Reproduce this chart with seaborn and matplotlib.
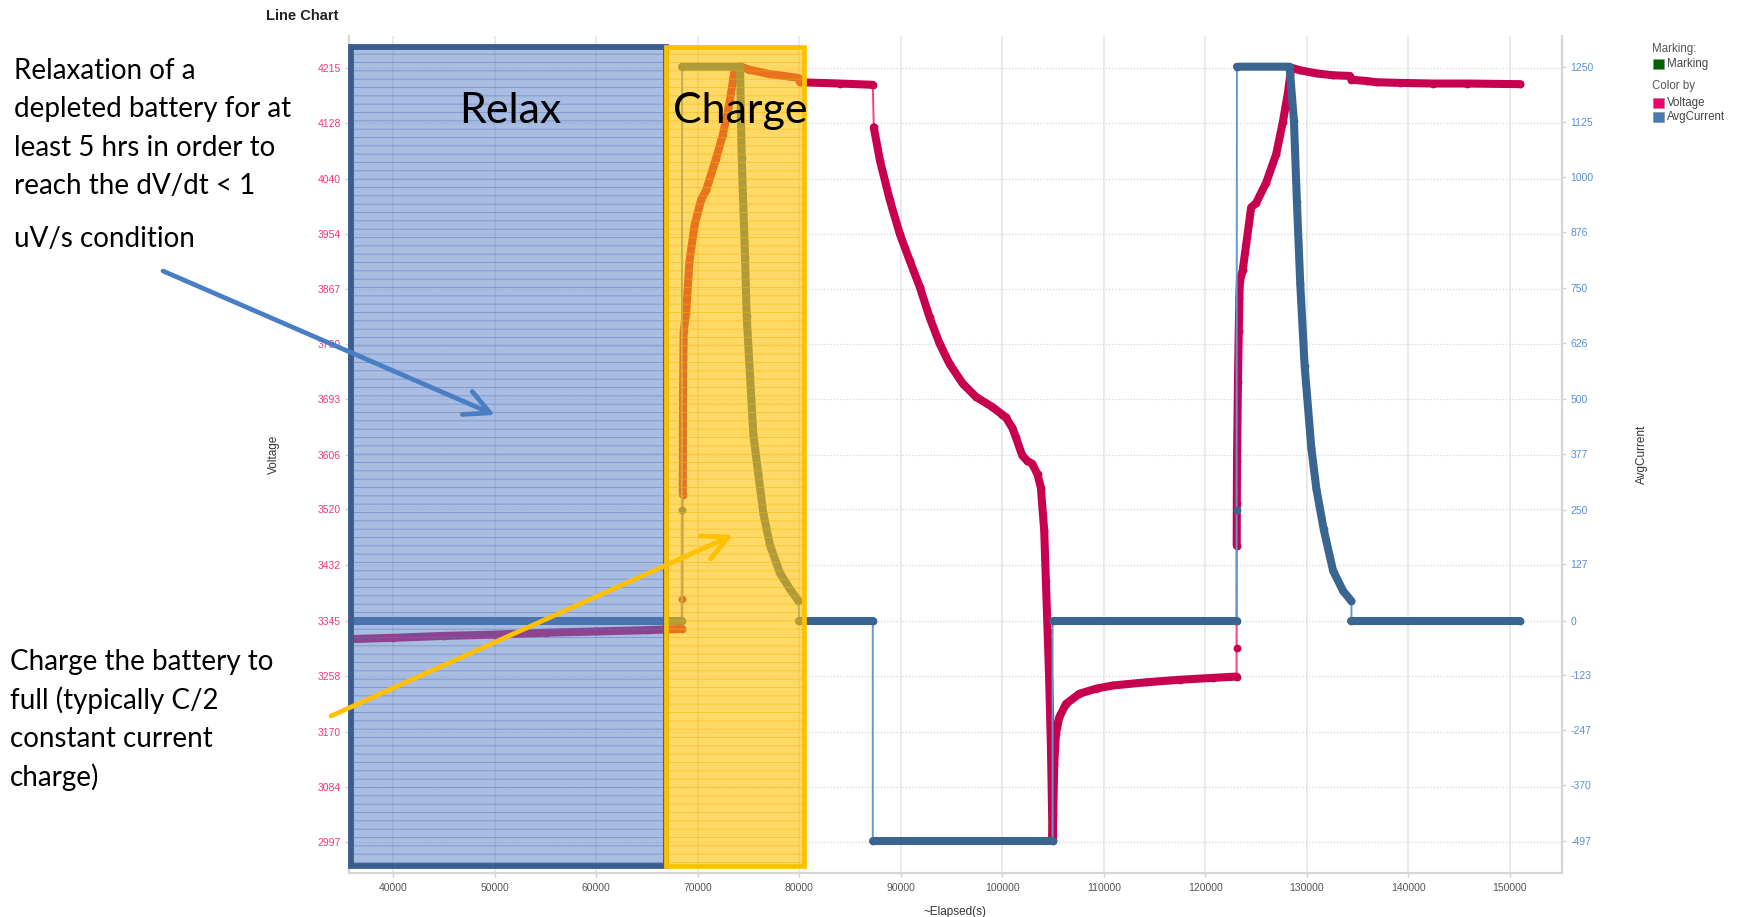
import matplotlib
matplotlib.use("Agg")
import matplotlib.pyplot as plt
from matplotlib.patches import Rectangle, FancyArrowPatch, ArrowStyle
import pandas as pd
import seaborn as sns

# ---------------- data ----------------
# Cell voltage (mV) vs elapsed time (s); "run" splits the trace into
# continuously sampled stretches (jumps between runs are thin connectors).
volt_time = [35800, 40000, 45000, 50000, 55000, 60000, 65000, 68450,
             68480,
             68517, 68540, 68600, 68845, 69173, 69665, 70157, 70321, 70813, 71797,
             72454, 73110, 73603, 73767, 74200, 75000, 77000, 79900,
             80050, 84000, 87230,
             87330, 87950, 88920, 89900, 90880, 91860, 92830, 93810, 94790, 96090,
             97400, 99020, 100000, 100330, 100990, 101310, 101950, 102470, 102930,
             103460, 103790, 104120, 104280, 104450, 104610, 104780, 104940,
             105008, 105107, 105272, 105601, 106260, 107578, 109226, 110873,
             114168, 117463, 120758, 123064,
             123066,
             123080, 123090, 123110, 123200, 123280, 123340, 123400, 123670, 124500,
             124990, 125980, 126970, 127630, 128120, 128450, 129280, 130920, 132570,
             134220,
             134382, 135865, 136854, 139160, 142455, 145750, 151022]
volt_mv = [3316, 3318, 3321, 3323, 3326, 3328, 3330, 3332,
           3379,
           3543, 3700, 3800, 3829, 3910, 3966, 3997, 4007, 4022, 4072,
           4109, 4159, 4209, 4215, 4217, 4212, 4205, 4199,
           4192, 4190, 4188,
           4121, 4068, 4006, 3953, 3911, 3870, 3822, 3781, 3749, 3718,
           3697, 3681, 3669, 3665, 3648, 3634, 3605, 3596, 3592,
           3575, 3554, 3486, 3408, 3329, 3251, 3146, 3000,
           3041, 3120, 3167, 3193, 3214, 3230, 3238, 3243,
           3248, 3252, 3255, 3257,
           3302,
           3463, 3530, 3596, 3720, 3800, 3853, 3880, 3896, 3995,
           4002, 4034, 4079, 4130, 4175, 4215, 4211, 4206, 4203,
           4202,
           4196, 4194, 4192, 4191, 4190, 4190, 4189]
volt_run = ([0] * 8 + [1] + [2] * 18 + [3] * 3 + [4] * 39 + [5] + [6] * 19 + [7] * 7)

# Average current (mA) vs elapsed time (s)
curr_time = [35800, 68404,
             68420,
             68450, 74155, 74318, 74646, 74810, 75137, 75465, 75956, 76456, 77111,
             78093, 79075, 79905,
             80000, 87230,
             87230, 104940,
             104940, 123064,
             123066,
             123100, 128287, 128715, 129011, 129341, 129769, 130428, 130923, 131647,
             132570, 133559, 134382,
             134382, 151022]
curr_ma = [0, 0,
           250,
           1250, 1250, 1045, 821, 687, 553, 420, 330, 241, 170,
           107, 71, 45,
           0, 0,
           -497, -497,
           0, 0,
           250,
           1250, 1250, 1128, 944, 759, 575, 390, 298, 206,
           113, 67, 44,
           0, 0]
curr_run = ([0] * 2 + [1] + [2] * 13 + [3] * 2 + [4] * 2 + [5] * 2 + [6] + [7] * 12 + [8] * 2)

x_ticks = [40000, 50000, 60000, 70000, 80000, 90000, 100000,
           110000, 120000, 130000, 140000, 150000]
volt_ticks = [2997, 3084, 3170, 3258, 3345, 3432, 3520, 3606,
              3693, 3780, 3867, 3954, 4040, 4128, 4215]
curr_ticks = [-497, -370, -247, -123, 0, 127, 250, 377,
              500, 626, 750, 876, 1000, 1125, 1250]

# Test phases highlighted on the chart
phase_names = ["Relax", "Charge"]
phase_start = [35850, 66840]
phase_end = [66840, 80480]

volt_df = pd.DataFrame({"t": volt_time, "v": volt_mv, "run": volt_run})
curr_df = pd.DataFrame({"t": curr_time, "i": curr_ma, "run": curr_run})

# ---------------- style ----------------
sns.set_theme(style="white")
plt.rcParams["font.family"] = ["Liberation Sans", "DejaVu Sans"]
plt.rcParams["hatch.linewidth"] = 0.7

W, H = 1737, 917
fig = plt.figure(figsize=(W / 100, H / 100), dpi=100)
L, R, T, B = 349, 1562, 36.5, 873
ax = fig.add_axes([L / W, 1 - B / H, (R - L) / W, (B - T) / H])
ax2 = ax.twinx()

V_THICK, V_THIN = "#C7004F", "#FF3A84"
C_THICK, C_THIN = "#3A6591", "#5E9AD6"
THICK_LW, DOT = 5.8, 5.6

# Voltage trace
sns.lineplot(data=volt_df, x="t", y="v", sort=False, estimator=None,
             color=V_THIN, linewidth=1.4, ax=ax, legend=False)
sns.lineplot(data=volt_df, x="t", y="v", units="run", sort=False, estimator=None,
             color=V_THICK, linewidth=THICK_LW, marker="o", markersize=DOT,
             markeredgewidth=0, solid_capstyle="round", solid_joinstyle="round",
             ax=ax, legend=False)

# Current trace
sns.lineplot(data=curr_df, x="t", y="i", sort=False, estimator=None,
             color=C_THIN, linewidth=1.4, ax=ax2, legend=False)
sns.lineplot(data=curr_df, x="t", y="i", units="run", sort=False, estimator=None,
             color=C_THICK, linewidth=THICK_LW, marker="o", markersize=DOT,
             markeredgewidth=0, solid_capstyle="round", solid_joinstyle="round",
             ax=ax2, legend=False)

v_lo, v_hi = 2948, 4264
ax.set_xlim(35636, 155122)
ax.set_ylim(v_lo, v_hi)
scale = (curr_ticks[-1] - curr_ticks[0]) / (volt_ticks[-1] - volt_ticks[0])
ax2.set_ylim((v_lo - 3345) * scale, (v_hi - 3345) * scale)

ax.set_xticks(x_ticks)
ax.set_xticklabels([str(x) for x in x_ticks])
ax.set_yticks(volt_ticks)
ax.set_yticklabels([str(v) for v in volt_ticks])
ax2.set_yticks(curr_ticks)
ax2.set_yticklabels([str(c) for c in curr_ticks])

ax.grid(axis="x", color="#e4e4e4", linewidth=1.1, linestyle="-")
ax.grid(axis="y", color="#d8d8d8", linewidth=0.9, linestyle=(0, (1, 1.5)))
ax.set_axisbelow(True)

ax.tick_params(axis="y", colors="#d0d0d0", labelcolor="#F0397A", labelsize=7.5,
               length=3, width=1, pad=3, left=True)
ax.tick_params(axis="x", colors="#d0d0d0", labelcolor="#555555", labelsize=7.5,
               length=3, width=1, pad=4, bottom=True)
ax2.tick_params(axis="y", colors="#d0d0d0", labelcolor="#5A8FD0", labelsize=7.5,
                length=3, width=1, pad=3, right=True)

for a in (ax, ax2):
    a.spines["top"].set_visible(False)
    for s in ("left", "right", "bottom"):
        a.spines[s].set_color("#d6d6d6")
        a.spines[s].set_linewidth(1.5)

ax.set_xlabel("~Elapsed(s)", fontsize=8.5, color="#333333")
ax.xaxis.set_label_coords(0.5, -(906 - B) / (B - T))
ax.set_ylabel("Voltage", fontsize=8.5, color="#333333")
ax.yaxis.set_label_coords((280 - L) / (R - L), 0.5)
ax2.set_ylabel("AvgCurrent", fontsize=8.5, color="#333333", rotation=90)
ax2.yaxis.set_label_coords((1636 - L) / (R - L), 0.5)

# ---------------- phase highlights ----------------
box_lo, box_hi = 2959, 4248
phase_fill = ["#5A82C9", "#FFC000"]
phase_alpha = [0.52, 0.6]
phase_hatch = ["#5577BB", "#F2B600"]
phase_edge = ["#3B5D8C", "#FFC000"]
phase_lw = [4.2, 3.4]
for s, e, fc, al, hc, ec, lw in zip(phase_start, phase_end, phase_fill, phase_alpha,
                                    phase_hatch, phase_edge, phase_lw):
    kw = dict(transform=ax.transData, clip_on=False)
    ax2.add_patch(Rectangle((s, box_lo), e - s, box_hi - box_lo, facecolor=fc,
                            edgecolor="none", alpha=al, zorder=5, **kw))
    ax2.add_patch(Rectangle((s, box_lo), e - s, box_hi - box_lo, facecolor="none",
                            edgecolor=hc, linewidth=0, hatch="--", alpha=0.5,
                            zorder=6, **kw))
    ax2.add_patch(Rectangle((s, box_lo), e - s, box_hi - box_lo, fill=False,
                            edgecolor=ec, linewidth=lw, joinstyle="miter",
                            zorder=7, **kw))

ANN = ["Lato", "DejaVu Sans"]


def ftext(x, y, s, **kw):
    fig.text(x / W, 1 - y / H, s, **kw)


ftext(510, 111, phase_names[0], fontsize=31, family=ANN, ha="center", va="center",
      color="black", zorder=10)
ftext(740, 111, phase_names[1], fontsize=31, family=ANN, ha="center", va="center",
      color="black", zorder=10)

# ---------------- callouts ----------------
relax_lines = ["Relaxation of a", "depleted battery for at",
               "least 5 hrs in order to", "reach the dV/dt < 1"]
for k, line in enumerate(relax_lines):
    ftext(14, 71 + k * 38.5, line, fontsize=20, family=ANN, ha="left", va="center",
          color="black")
ftext(14, 239, "uV/s condition", fontsize=20, family=ANN, ha="left", va="center",
      color="black")

charge_lines = ["Charge the battery to", "full (typically C/2",
                "constant current", "charge)"]
for k, line in enumerate(charge_lines):
    ftext(10, 662 + k * 38.5, line, fontsize=20, family=ANN, ha="left", va="center",
          color="black")

head = ArrowStyle("->", head_length=0.9, head_width=0.45)
for (x0, y0), (x1, y1), col in [((163, 271), (495, 415), "#4A7EC4"),
                                ((331, 716), (733, 535), "#FFC000")]:
    arr = FancyArrowPatch((x0 / W, 1 - y0 / H), (x1 / W, 1 - y1 / H),
                          transform=fig.transFigure, arrowstyle=head,
                          mutation_scale=20, linewidth=3.4, color=col,
                          shrinkA=0, shrinkB=0, zorder=20)
    fig.add_artist(arr)

# ---------------- title & legend ----------------
ftext(266, 16, "Line Chart", fontsize=10.5, fontweight="bold", ha="left", va="center",
      color="#222222")

ftext(1652, 49, "Marking:", fontsize=8.3, ha="left", va="center", color="#555555")
ftext(1652, 86, "Color by", fontsize=8.3, ha="left", va="center", color="#555555")
legend_items = [("Marking", "#006400", 64), ("Voltage", "#F5006A", 103),
                ("AvgCurrent", "#4A7AB5", 117)]
for label, col, yc in legend_items:
    fig.add_artist(Rectangle(((1653) / W, 1 - (yc + 5) / H), 11 / W, 10 / H,
                             transform=fig.transFigure, facecolor=col,
                             edgecolor="#888888", linewidth=0.4))
    ftext(1667, yc, label, fontsize=8.3, ha="left", va="center", color="#444444")

fig.savefig("out.png", dpi=100)
